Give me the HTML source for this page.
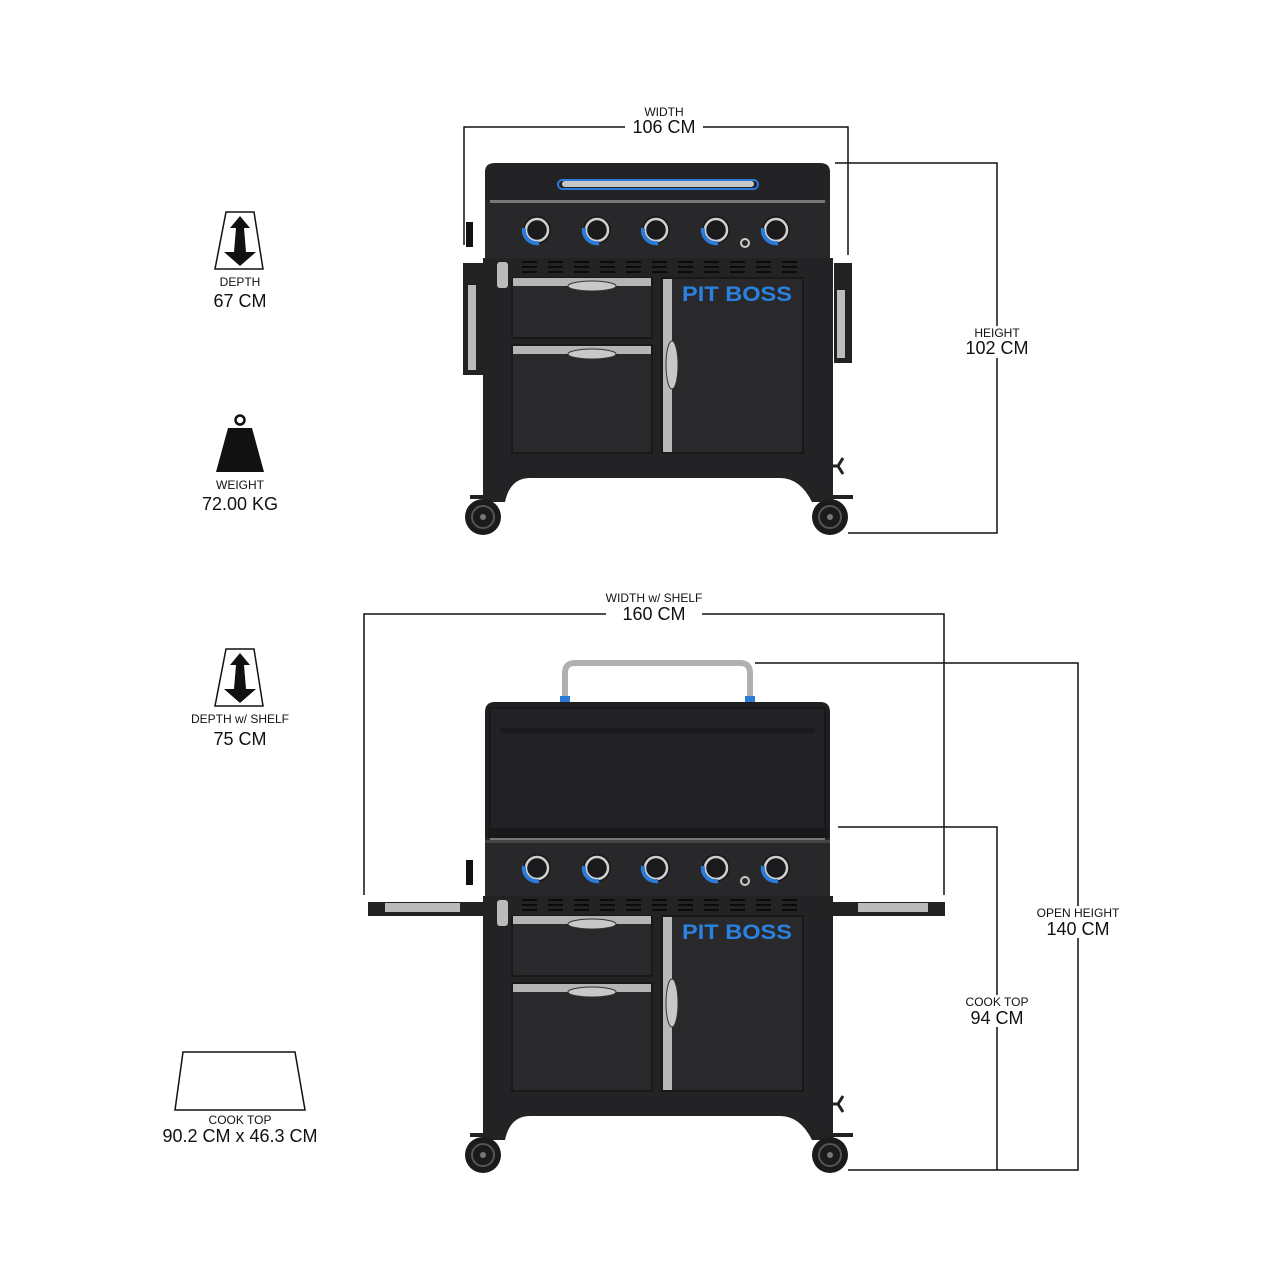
<!DOCTYPE html>
<html><head><meta charset="utf-8"><style>
html,body{margin:0;padding:0;background:#fff;}
svg{display:block;}
text{font-family:"Liberation Sans",sans-serif;fill:#111;text-anchor:middle;}
.s{font-size:12px;}
.b{font-size:18px;}
</style></head><body>
<svg width="1280" height="1280" viewBox="0 0 1280 1280" xmlns="http://www.w3.org/2000/svg">
<defs>
<g id="knob">
<circle r="14" fill="#1a1a1c"/>
<circle r="11" fill="none" stroke="#d0d0d0" stroke-width="2.5"/>
<path d="M-13 -2 A13 13 0 0 0 2 13" fill="none" stroke="#2a7ad8" stroke-width="4"/>
</g>
<g id="base">
<rect x="485" y="200" width="345" height="58" fill="#28282b"/>
<rect x="490" y="200" width="335" height="3" fill="#777"/>
<use href="#knob" x="537" y="230"/>
<use href="#knob" x="597" y="230"/>
<use href="#knob" x="656" y="230"/>
<use href="#knob" x="716" y="230"/>
<use href="#knob" x="776" y="230"/>
<circle cx="745" cy="243" r="4" fill="none" stroke="#ccc" stroke-width="2"/>
<rect x="483" y="258" width="350" height="212" fill="#232326"/>
<g fill="#0b0b0c">
<rect x="522" y="261" width="15" height="2"/><rect x="522" y="266" width="15" height="2"/><rect x="522" y="271" width="15" height="2"/>
<rect x="548" y="261" width="15" height="2"/><rect x="548" y="266" width="15" height="2"/><rect x="548" y="271" width="15" height="2"/>
<rect x="574" y="261" width="15" height="2"/><rect x="574" y="266" width="15" height="2"/><rect x="574" y="271" width="15" height="2"/>
<rect x="600" y="261" width="15" height="2"/><rect x="600" y="266" width="15" height="2"/><rect x="600" y="271" width="15" height="2"/>
<rect x="626" y="261" width="15" height="2"/><rect x="626" y="266" width="15" height="2"/><rect x="626" y="271" width="15" height="2"/>
<rect x="652" y="261" width="15" height="2"/><rect x="652" y="266" width="15" height="2"/><rect x="652" y="271" width="15" height="2"/>
<rect x="678" y="261" width="15" height="2"/><rect x="678" y="266" width="15" height="2"/><rect x="678" y="271" width="15" height="2"/>
<rect x="704" y="261" width="15" height="2"/><rect x="704" y="266" width="15" height="2"/><rect x="704" y="271" width="15" height="2"/>
<rect x="730" y="261" width="15" height="2"/><rect x="730" y="266" width="15" height="2"/><rect x="730" y="271" width="15" height="2"/>
<rect x="756" y="261" width="15" height="2"/><rect x="756" y="266" width="15" height="2"/><rect x="756" y="271" width="15" height="2"/>
<rect x="782" y="261" width="15" height="2"/><rect x="782" y="266" width="15" height="2"/><rect x="782" y="271" width="15" height="2"/>
</g>
<rect x="497" y="262" width="11" height="26" rx="3" fill="#bbb"/>
<rect x="512" y="278" width="140" height="60" fill="#29292c" stroke="#0c0c0c"/>
<rect x="513" y="278" width="138" height="8" fill="#b5b5b5"/>
<ellipse cx="592" cy="286" rx="24" ry="5" fill="#c8c8c8" stroke="#333"/>
<rect x="512" y="345" width="140" height="108" fill="#29292c" stroke="#0c0c0c"/>
<rect x="513" y="346" width="138" height="8" fill="#b5b5b5"/>
<ellipse cx="592" cy="354" rx="24" ry="5" fill="#c8c8c8" stroke="#333"/>
<rect x="662" y="278" width="141" height="175" fill="#29292c" stroke="#0c0c0c"/>
<rect x="663" y="279" width="9" height="173" fill="#b8b8b8"/>
<ellipse cx="672" cy="365" rx="6" ry="24" fill="#c8c8c8" stroke="#333"/>
<text x="737" y="301" textLength="110" lengthAdjust="spacingAndGlyphs" style="font-size:21px;font-weight:bold;fill:#2a82e0">PIT BOSS</text>
<path d="M483 470 H833 V502 H812 Q800 478 780 478 H530 Q510 478 505 502 H483 Z" fill="#232326"/>
<path d="M843 458 l-5 8 l5 8 M838 466 h-5" stroke="#222" stroke-width="3" fill="none"/>
<rect x="470" y="495" width="28" height="4" fill="#222"/>
<rect x="818" y="495" width="35" height="4" fill="#222"/>
<circle cx="483" cy="517" r="18" fill="#1b1b1d"/><circle cx="483" cy="517" r="11" fill="none" stroke="#555" stroke-width="2"/><circle cx="483" cy="517" r="3" fill="#777"/>
<circle cx="830" cy="517" r="18" fill="#1b1b1d"/><circle cx="830" cy="517" r="11" fill="none" stroke="#555" stroke-width="2"/><circle cx="830" cy="517" r="3" fill="#777"/>
</g>
</defs>

<path d="M485 200 V172 Q485 163 495 163 H820 Q830 163 830 172 V200 Z" fill="#232326"/>
<rect x="558" y="180" width="200" height="9" rx="4.5" fill="none" stroke="#2a7ad8" stroke-width="2"/>
<rect x="562" y="181" width="192" height="6" rx="3" fill="#c8c8c8"/>
<use href="#base"/>
<rect x="463" y="263" width="22" height="112" fill="#222"/>
<rect x="468" y="285" width="8" height="85" fill="#bbb"/>
<rect x="466" y="222" width="7" height="25" fill="#111"/>
<rect x="834" y="263" width="18" height="100" fill="#222"/>
<rect x="837" y="290" width="8" height="68" fill="#bbb"/>

<g stroke="#111" stroke-width="1.5" fill="none">
<path d="M464 245 V127 H625 M703 127 H848 V255"/>
<path d="M835 163 H997 V533 H848"/>
</g>
<text class="s" x="664" y="116">WIDTH</text>
<text class="b" x="664" y="133">106 CM</text>
<rect x="967" y="326" width="60" height="32" fill="#fff"/>
<text class="s" x="997" y="337">HEIGHT</text>
<text class="b" x="997" y="354">102 CM</text>

<polygon points="226,212 254,212 263,269 215,269" fill="#fff" stroke="#111" stroke-width="1.5"/>
<polygon points="240,216 250,228 244,228 246,252 256,252 240,266 224,252 234,252 236,228 230,228" fill="#111"/>
<text class="s" x="240" y="286">DEPTH</text>
<text class="b" x="240" y="307">67 CM</text>
<circle cx="240" cy="420" r="4.5" fill="none" stroke="#111" stroke-width="2.5"/>
<polygon points="228,428 252,428 264,472 216,472" fill="#111"/>
<text class="s" x="240" y="489">WEIGHT</text>
<text class="b" x="240" y="510">72.00 KG</text>

<polygon points="226,649 254,649 263,706 215,706" fill="#fff" stroke="#111" stroke-width="1.5"/>
<polygon points="240,653 250,665 244,665 246,689 256,689 240,703 224,689 234,689 236,665 230,665" fill="#111"/>
<text class="s" x="240" y="723">DEPTH w/ SHELF</text>
<text class="b" x="240" y="745">75 CM</text>
<polygon points="183,1052 295,1052 305,1110 175,1110" fill="#fff" stroke="#111" stroke-width="1.5"/>
<text class="s" x="240" y="1124">COOK TOP</text>
<text class="b" x="240" y="1142">90.2 CM x 46.3 CM</text>

<path d="M565 700 V673 Q565 663 575 663 H740 Q750 663 750 673 V700" fill="none" stroke="#b0b0b0" stroke-width="6"/>
<rect x="560" y="696" width="10" height="6" fill="#2a7ad8"/><rect x="745" y="696" width="10" height="6" fill="#2a7ad8"/>
<path d="M485 840 V712 Q485 702 495 702 H820 Q830 702 830 712 V840 Z" fill="#1f1f22"/>
<rect x="490" y="708" width="335" height="127" fill="#222226" stroke="#111"/>
<rect x="500" y="728" width="315" height="5" fill="#1a1a1c"/>
<rect x="488" y="828" width="340" height="12" fill="#18181a"/>
<g transform="translate(0,638)"><use href="#base"/></g>
<rect x="485" y="840" width="345" height="3" fill="#444"/>
<rect x="368" y="902" width="117" height="14" fill="#222"/>
<rect x="385" y="903" width="75" height="9" fill="#bbb"/>
<rect x="830" y="902" width="115" height="14" fill="#222"/>
<rect x="858" y="903" width="70" height="9" fill="#bbb"/>
<rect x="466" y="860" width="7" height="25" fill="#111"/>

<g stroke="#111" stroke-width="1.5" fill="none">
<path d="M364 895 V614 H606 M702 614 H944 V895"/>
<path d="M755 663 H1078 V1170 H848"/>
<path d="M838 827 H997 V1170"/>
</g>
<text class="s" x="654" y="602">WIDTH w/ SHELF</text>
<text class="b" x="654" y="620">160 CM</text>
<rect x="1037" y="906" width="84" height="32" fill="#fff"/>
<text class="s" x="1078" y="917">OPEN HEIGHT</text>
<text class="b" x="1078" y="935">140 CM</text>
<rect x="962" y="995" width="70" height="32" fill="#fff"/>
<text class="s" x="997" y="1006">COOK TOP</text>
<text class="b" x="997" y="1024">94 CM</text>
</svg>
</body></html>
